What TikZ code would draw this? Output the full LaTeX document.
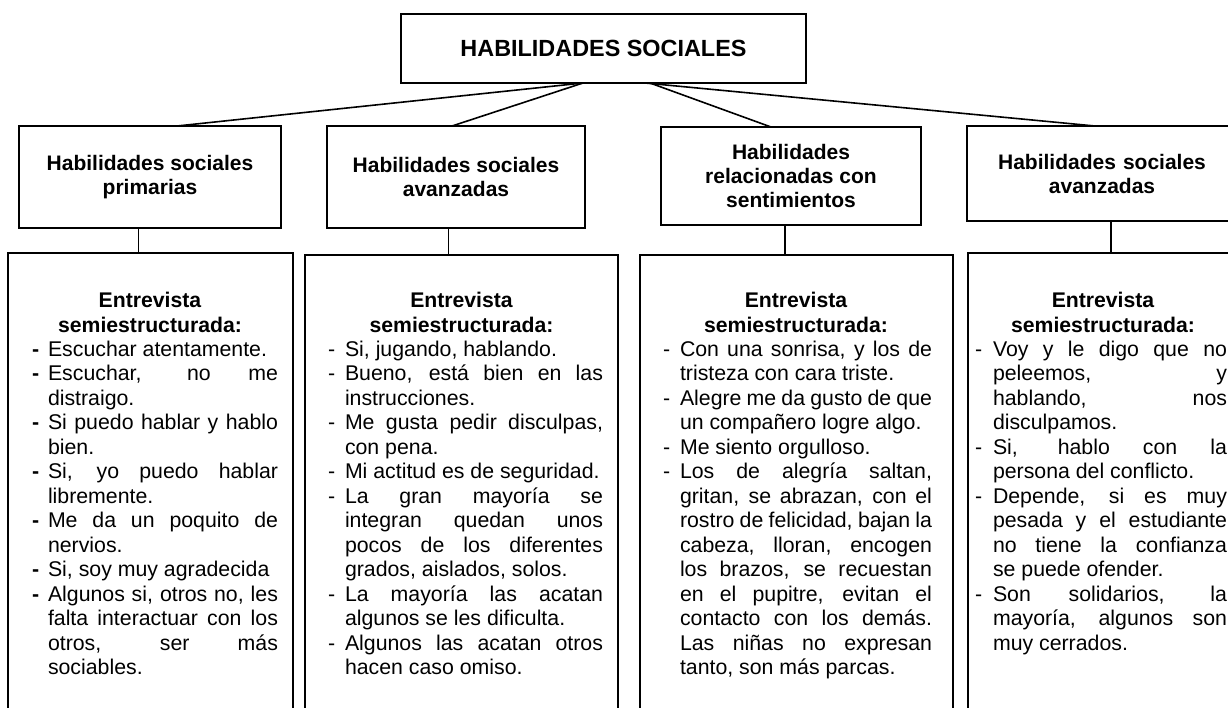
\documentclass[tikz,border=0pt]{standalone}
\usepackage{fontspec}
\setmainfont{Liberation Sans}
\newlength\tw
\newlength\dw
\newcommand\Dd{\makebox[\dw][l]{-}}
\newcommand\Db{\makebox[\dw][l]{\textbf{-}}}
\newcommand\Ii{\hspace*{\dw}}
\newcommand\Jj[1]{{\spaceskip=0pt\xspaceskip=0pt\makebox[\tw][s]{#1}}}
\newcommand\Ll[1]{{\spaceskip=0pt\xspaceskip=0pt\makebox[\tw][l]{#1}}}
\tikzset{
  box/.style={draw, line width=2pt, inner sep=0pt, outer sep=0pt, align=center,
    font=\fontsize{21}{24}\selectfont\bfseries},
  topbox/.style={box, font=\fontsize{23.4}{28}\selectfont\bfseries},
  panel/.style={draw, line width=2pt, inner sep=0pt, outer sep=0pt},
  head/.style={inner sep=0pt, outer sep=0pt, anchor=north, align=center,
    font=\fontsize{21.2}{24.5}\selectfont\bfseries},
  body/.style={inner sep=0pt, outer sep=0pt, anchor=north west, align=left,
    font=\fontsize{21.3}{24.5}\selectfont},
  link/.style={line width=1.6pt},
  thinlink/.style={line width=1pt},
  thicklink/.style={line width=2pt}
}
\begin{document}
\begin{tikzpicture}[x=1pt, y=-1pt]
\useasboundingbox (0,0) rectangle (1228,707);
\clip (0,0) rectangle (1228,707);

% top node
\node[topbox, minimum width=405pt, minimum height=69pt] (top) at (603.5,48.5) {HABILIDADES SOCIALES};

% second row
\node[box, minimum width=262pt, minimum height=102pt] (b1) at (150,177) {Habilidades sociales\\primarias};
\node[box, minimum width=258pt, minimum height=102pt] (b2) at (456,177) {Habilidades sociales\\avanzadas};
\node[box, minimum width=260pt, minimum height=98pt] (b3) at (791,176) {Habilidades\\relacionadas con\\sentimientos};
\node[box, minimum width=263pt, minimum height=95pt, text width=250pt] (b4) at (1098.5,173.5) {\hspace*{7pt}Habilidades sociales\\\hspace*{7pt}avanzadas};

% panels
\node[panel, minimum width=285pt, minimum height=467pt] (c1) at (150.5,486.5) {};
\node[panel, minimum width=313pt, minimum height=465pt] (c2) at (461.5,487.5) {};
\node[panel, minimum width=313pt, minimum height=465pt] (c3) at (796.5,487.5) {};
\node[panel, minimum width=292pt, minimum height=467pt] (c4) at (1114,486.5) {};

% connectors from the top
\draw[link] ([xshift=-20.5pt]top.south) -- ([xshift=27pt]b1.north);
\draw[link] ([xshift=-20.5pt]top.south) -- ([xshift=-4pt]b2.north);
\draw[link] ([xshift=46.5pt]top.south) -- ([xshift=-20pt]b3.north);
\draw[link] ([xshift=41.5pt]top.south) -- ([xshift=-3.5pt]b4.north);

% connectors to panels
\draw[thinlink] ([xshift=-12pt]b1.south) -- ([xshift=-12pt]b1.south |- c1.north);
\draw[thinlink] ([xshift=-8pt]b2.south) -- ([xshift=-8pt]b2.south |- c2.north);
\draw[thicklink] ([xshift=-6pt]b3.south) -- ([xshift=-6pt]b3.south |- c3.north);
\draw[thicklink] ([xshift=12.5pt]b4.south) -- ([xshift=12.5pt]b4.south |- c4.north);

% headings
\node[head] (h1) at (150,290.35) {\strut Entrevista\\semiestructurada:};
\node[head] (h2) at (461.5,290.35) {\strut Entrevista\\semiestructurada:};
\node[head] (h3) at (796,290.35) {\strut Entrevista\\semiestructurada:};
\node[head] (h4) at (1103,290.35) {\strut Entrevista\\semiestructurada:};

% body texts
\node[body, text width=250pt] (t1) at (32,338.85) {\setlength\tw{230pt}\setlength\dw{16pt}%
\strut\Db\Ll{Escuchar atentamente.}\\
\Db\Jj{Escuchar, no me}\\
\Ii\Ll{distraigo.}\\
\Db\Jj{Si puedo hablar y hablo}\\
\Ii\Ll{bien.}\\
\Db\Jj{Si, yo puedo hablar}\\
\Ii\Ll{libremente.}\\
\Db\Jj{Me da un poquito de}\\
\Ii\Ll{nervios.}\\
\Db\Ll{Si, soy muy agradecida}\\
\Db\Jj{Algunos si, otros no, les}\\
\Ii\Jj{falta interactuar con los}\\
\Ii\Jj{otros, ser más}\\
\Ii\Ll{sociables.}};

\node[body, text width=280pt] (t2) at (328,338.85) {\setlength\tw{258pt}\setlength\dw{17pt}%
\strut\Dd\Ll{Si, jugando, hablando.}\\
\Dd\Jj{Bueno, está bien en las}\\
\Ii\Ll{instrucciones.}\\
\Dd\Jj{Me gusta pedir disculpas,}\\
\Ii\Ll{con pena.}\\
\Dd\Ll{Mi actitud es de seguridad.}\\
\Dd\Jj{La gran mayoría se}\\
\Ii\Jj{integran quedan unos}\\
\Ii\Jj{pocos de los diferentes}\\
\Ii\Ll{grados, aislados, solos.}\\
\Dd\Jj{La mayoría las acatan}\\
\Ii\Ll{algunos se les dificulta.}\\
\Dd\Jj{Algunos las acatan otros}\\
\Ii\Ll{hacen caso omiso.}};

\node[body, text width=275pt] (t3) at (663,338.85) {\setlength\tw{252pt}\setlength\dw{17pt}%
\strut\Dd\Jj{Con una sonrisa, y los de}\\
\Ii\Ll{tristeza con cara triste.}\\
\Dd\Jj{Alegre me da gusto de que}\\
\Ii\Ll{un compañero logre algo.}\\
\Dd\Ll{Me siento orgulloso.}\\
\Dd\Jj{Los de alegría saltan,}\\
\Ii\Jj{gritan, se abrazan, con el}\\
\Ii\Jj{rostro de felicidad, bajan la}\\
\Ii\Jj{cabeza, lloran, encogen}\\
\Ii\Jj{los brazos, se recuestan}\\
\Ii\Jj{en el pupitre, evitan el}\\
\Ii\Jj{contacto con los demás.}\\
\Ii\Jj{Las niñas no expresan}\\
\Ii\Ll{tanto, son más parcas.}};

\node[body, text width=260pt] (t4) at (975,338.85) {\setlength\tw{234pt}\setlength\dw{18pt}%
\strut\Dd\Jj{Voy y le digo que no}\\
\Ii\Jj{peleemos, y}\\
\Ii\Jj{hablando, nos}\\
\Ii\Ll{disculpamos.}\\
\Dd\Jj{Si, hablo con la}\\
\Ii\Ll{persona del conflicto.}\\
\Dd\Jj{Depende, si es muy}\\
\Ii\Jj{pesada y el estudiante}\\
\Ii\Jj{no tiene la confianza}\\
\Ii\Ll{se puede ofender.}\\
\Dd\Jj{Son solidarios, la}\\
\Ii\Jj{mayoría, algunos son}\\
\Ii\Ll{muy cerrados.}};
\end{tikzpicture}
\end{document}
